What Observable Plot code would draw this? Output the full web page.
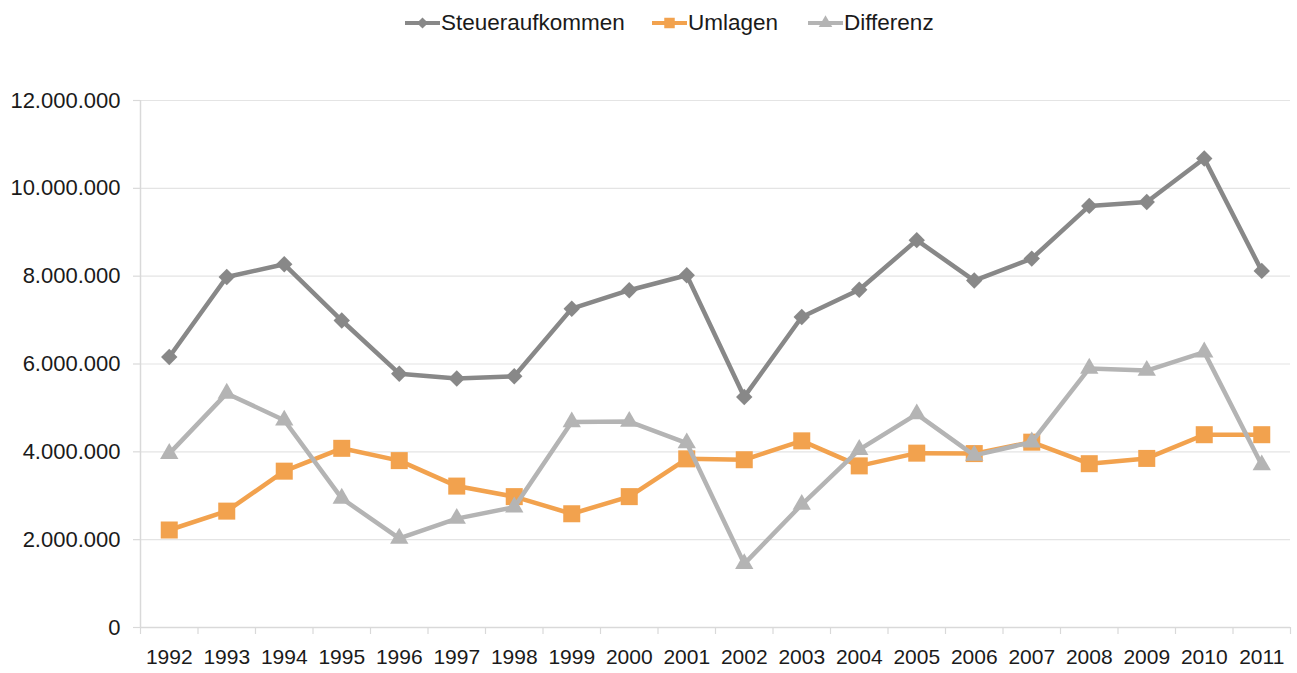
<!DOCTYPE html>
<html>
<head>
<meta charset="utf-8">
<script src="https://cdn.jsdelivr.net/npm/d3@7"></script>
<script src="https://cdn.jsdelivr.net/npm/@observablehq/plot@0.6"></script>
<style>
  html, body { margin: 0; padding: 0; background: #fff; }
  body { width: 1297px; height: 673px; overflow: hidden; font-family: "Liberation Sans", Arial, sans-serif; }
  #legend { position: relative; height: 45px; }
  .item { position: absolute; top: 10px; display: flex; align-items: center; font-size: 22.5px; color: #1a1a1a; }
  .item svg { margin-right: 1px; }
</style>
</head>
<body>
<div id="legend"></div>
<div id="chart"></div>
<script>
const years = ["1992","1993","1994","1995","1996","1997","1998","1999","2000","2001",
               "2002","2003","2004","2005","2006","2007","2008","2009","2010","2011"];
const steuer = [6160000, 7980000, 8270000, 6990000, 5780000, 5670000, 5720000, 7260000, 7680000, 8020000,
                5250000, 7070000, 7690000, 8820000, 7900000, 8400000, 9600000, 9690000, 10680000, 8120000];
const umlagen = [2220000, 2650000, 3560000, 4080000, 3800000, 3220000, 2980000, 2590000, 2980000, 3840000,
                 3820000, 4250000, 3680000, 3970000, 3960000, 4220000, 3730000, 3850000, 4390000, 4390000];
const differenz = [3960000, 5330000, 4720000, 2940000, 2030000, 2480000, 2740000, 4680000, 4690000, 4200000,
                   1450000, 2800000, 4050000, 4860000, 3920000, 4220000, 5900000, 5850000, 6270000, 3700000];
const yTicks = [0, 2000000, 4000000, 6000000, 8000000, 10000000, 12000000];
const seriesNames = ["Steueraufkommen", "Umlagen", "Differenz"];
const seriesColors = ["#888888", "#f2a24e", "#b4b4b4"];
const seriesSymbols = ["diamond2", "square", "triangle"];
const seriesR = [7.4, 9.6, 6.8];

const seriesValues = [steuer, umlagen, differenz];
const rows = seriesNames.map((name, i) => years.map((yr, j) => ({series: name, year: yr, value: seriesValues[i][j]})));

const de = d3.formatLocale({decimal: ",", thousands: ".", grouping: [3], currency: ["", " €"]});
const fmt = de.format(",d");

const W = 1297, H = 628, mL = 140, mR = 7, mT = 55, mB = 46;
const step = (W - mL - mR) / years.length;
const axisColor = "#d9d9d9";

const marks = [
  Plot.gridY(yTicks, {stroke: "#e4e4e4", strokeOpacity: 1, strokeWidth: 1.2}),
  Plot.axisY({ticks: yTicks, tickFormat: fmt, tickSize: 7, tickPadding: 13, stroke: axisColor, strokeWidth: 1.2, fontSize: 22, fill: "#1a1a1a"}),
  Plot.ruleY([0], {stroke: axisColor, strokeWidth: 1.5}),
  Plot.ruleX([years[0]], {dx: -step / 2, stroke: axisColor, strokeWidth: 1.5}),
  Plot.axisX({tickSize: 7, tickFormat: () => "", dx: -step / 2, stroke: axisColor, strokeWidth: 1.2}),
  Plot.axisX({ticks: [years[years.length - 1]], tickSize: 7, tickFormat: () => "", dx: step / 2, stroke: axisColor, strokeWidth: 1.2}),
  Plot.axisX({tickSize: 0, tickPadding: 22, fontSize: 21, fill: "#1a1a1a"})
];
rows.forEach((data, i) => {
  marks.push(Plot.line(data, {x: "year", y: "value", stroke: seriesColors[i], strokeWidth: 4.5, strokeLinejoin: "round"}));
  marks.push(Plot.dot(data, {x: "year", y: "value", symbol: () => seriesSymbols[i], r: seriesR[i], fill: seriesColors[i], stroke: "none"}));
});

const chart = Plot.plot({
  width: W, height: H,
  marginLeft: mL, marginRight: mR, marginTop: mT, marginBottom: mB,
  style: {fontFamily: "'Liberation Sans', Arial, sans-serif", fontSize: "21px", background: "#fff"},
  x: {type: "point", domain: years, padding: 0.5, round: false, label: null},
  y: {domain: [0, 12000000], label: null},
  symbol: {type: "identity"},
  marks
});
document.getElementById("chart").appendChild(chart);

// Legend
const legendLeft = [405, 652, 808];
const legend = document.getElementById("legend");
seriesNames.forEach((name, i) => {
  const item = document.createElement("div");
  item.className = "item";
  item.style.left = legendLeft[i] + "px";
  const sw = d3.create("svg").attr("width", 35).attr("height", 24);
  sw.append("line").attr("x1", 0).attr("x2", 35).attr("y1", 12).attr("y2", 12)
    .attr("stroke", seriesColors[i]).attr("stroke-width", 4);
  const symMap = {diamond2: d3.symbolDiamond2, square: d3.symbolSquare, triangle: d3.symbolTriangle};
  sw.append("path").attr("transform", "translate(17.5,12)")
    .attr("d", d3.symbol(symMap[seriesSymbols[i]], [80, 110, 80][i])())
    .attr("fill", seriesColors[i]);
  item.appendChild(sw.node());
  const t = document.createElement("span");
  t.textContent = name;
  item.appendChild(t);
  legend.appendChild(item);
});
</script>
</body>
</html>
